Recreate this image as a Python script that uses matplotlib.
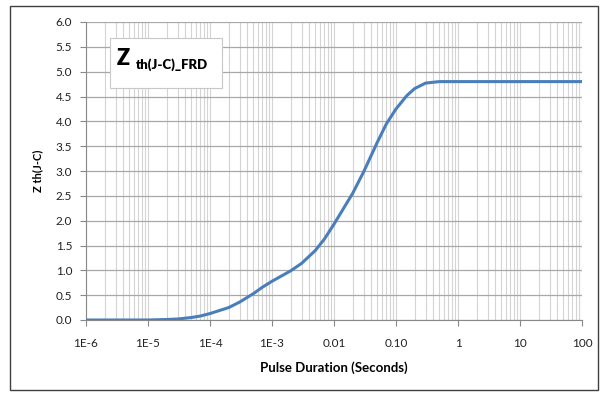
import numpy as np
import matplotlib
matplotlib.use("Agg")
import matplotlib.pyplot as plt
from matplotlib.patches import Rectangle
from matplotlib.ticker import FixedLocator, LogLocator, NullFormatter

# Values
pulse_s = [1e-6, 1e-5, 2e-5, 3e-5, 5e-5, 7e-5, 1e-4, 2e-4, 3e-4, 5e-4, 7e-4,
           1e-3, 2e-3, 3e-3, 5e-3, 7e-3, 0.01, 0.02, 0.03, 0.05, 0.07,
           0.1, 0.15, 0.2, 0.3, 0.5, 1, 100]
zth = [0.0, 0.0, 0.01, 0.02, 0.05, 0.08, 0.13, 0.25, 0.36, 0.53, 0.66,
       0.78, 0.99, 1.14, 1.40, 1.63, 1.93, 2.55, 2.98, 3.58, 3.95,
       4.25, 4.52, 4.66, 4.77, 4.80, 4.80, 4.80]

x_ticks = [1e-6, 1e-5, 1e-4, 1e-3, 0.01, 0.1, 1, 10, 100]
x_labels = ["1E-6", "1E-5", "1E-4", "1E-3", "0.01", "0.10", "1", "10", "100"]

plt.rcParams['font.family'] = ['Lato', 'DejaVu Sans']

fig = plt.figure(figsize=(6.05, 3.94), dpi=100)
ax = fig.add_axes([86 / 605, 1 - 320 / 394, 496 / 605, 298 / 394])

# outer frame
fig.patches.append(Rectangle((10 / 605, 4 / 394), 588 / 605, 384 / 394,
                             transform=fig.transFigure, fill=False,
                             edgecolor="#404040", lw=1.0))

ax.semilogx(pulse_s, zth, color="#4a7ebb", lw=2.2, solid_capstyle="round",
            solid_joinstyle="round", zorder=3)

ax.set_xlim(1e-6, 100)
ax.set_ylim(0, 6)
ax.xaxis.set_major_locator(FixedLocator(x_ticks))
ax.set_xticklabels(x_labels)
ax.xaxis.set_minor_locator(LogLocator(base=10, subs=np.arange(2, 10)))
ax.xaxis.set_minor_formatter(NullFormatter())
ax.set_yticks(np.arange(0, 6.01, 0.5))
ax.set_yticklabels([f"{v:.1f}" for v in np.arange(0, 6.01, 0.5)])

ax.grid(which="major", axis="y", color="#a8a8a8", lw=0.9)
ax.grid(which="both", axis="x", color="#d4d4d4", lw=0.8)
ax.set_axisbelow(True)

for s in ["top", "right"]:
    ax.spines[s].set_visible(False)
for s in ["left", "bottom"]:
    ax.spines[s].set_color("#888888")
ax.tick_params(axis="both", which="major", length=4, color="#888888",
               labelsize=8.5, labelcolor="#222222")
ax.tick_params(axis="x", which="major", pad=9)
ax.tick_params(axis="y", which="major", pad=6)
ax.tick_params(axis="x", which="minor", length=0)

ax.set_xlabel("Pulse Duration (Seconds)", fontsize=9.5, fontweight="bold", labelpad=9)
ax.set_ylabel("Z th(J-C)", fontsize=8, fontweight="bold", labelpad=9)

# title box
ax.text(0.062, 0.878, "Z", transform=ax.transAxes, fontsize=15.5,
        fontweight="heavy", va="center", ha="left")
ax.text(0.1, 0.858, "th(J-C)_FRD", transform=ax.transAxes, fontsize=9.5,
        fontweight="heavy", va="center", ha="left")
ax.add_patch(Rectangle((24 / 496, 232 / 298), 112 / 496, 50 / 298,
                       transform=ax.transAxes, facecolor="white",
                       edgecolor="#c8c8c8", lw=0.8, zorder=2))

fig.savefig("out.png", dpi=100)
